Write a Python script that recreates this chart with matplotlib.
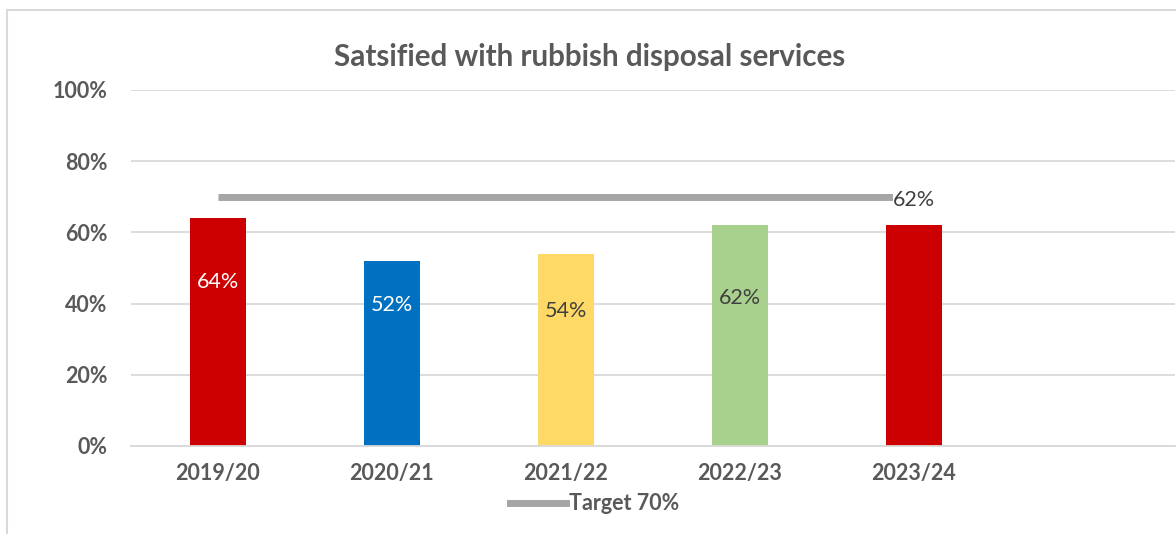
import matplotlib.pyplot as plt
from matplotlib.patches import Rectangle
from matplotlib.lines import Line2D

# data
years = ["2019/20", "2020/21", "2021/22", "2022/23", "2023/24", ""]
satisfied = [64, 52, 54, 62, 62]
target = [70, 70, 70, 70, 70]
bar_colors = ["#CC0000", "#0070C0", "#FFD966", "#A9D18E", "#CC0000"]
label_y = [46, 39.5, 38, 41.5, 69]
label_colors = ["white", "white", "#404040", "#404040", "#404040"]

plt.rcParams['font.family'] = ['Lato', 'DejaVu Sans']
grey = "#595959"

fig = plt.figure(figsize=(11.76, 5.34), dpi=100)
ax = fig.add_axes([131 / 1176, 1 - 446 / 534, 1044 / 1176, 356 / 534])

x = list(range(len(years)))
ax.bar(x[:len(satisfied)], satisfied, width=0.32, color=bar_colors, zorder=2)
ax.plot(x[:len(target)], target, color="#A5A5A5", lw=5, solid_capstyle="butt", zorder=3)

for i, (v, ly, c) in enumerate(zip(satisfied, label_y, label_colors)):
    bbox = dict(facecolor="white", edgecolor="none", pad=0.3) if i == 4 else None
    ax.text(i, ly, f"{v}%", ha="center", va="center", fontsize=15.5, color=c,
            zorder=4, bbox=bbox)

ax.set_xlim(-0.5, len(years) - 0.5)
ax.set_ylim(0, 100)
ax.set_yticks(range(0, 101, 20))
ax.set_yticklabels([f"{t}%" for t in range(0, 101, 20)], fontsize=15.5,
                   fontweight="bold", color=grey)
ax.set_xticks(x)
ax.set_xticklabels(years, fontsize=15.5, fontweight="bold", color=grey)
ax.tick_params(length=0, pad=12)
ax.tick_params(axis="y", pad=17)
ax.grid(axis="y", color="#D9D9D9", lw=1.3, zorder=0)
ax.set_axisbelow(True)
for s in ["top", "right", "left"]:
    ax.spines[s].set_visible(False)
ax.spines["bottom"].set_color("#D9D9D9")
ax.spines["bottom"].set_linewidth(1.3)

fig.text(590 / 1176, 1 - 57 / 534, "Satsified with rubbish disposal services",
         ha="center", va="center", fontsize=21.3, fontweight="bold", color=grey)

# legend
fig.add_artist(Line2D([510 / 1176, 566 / 1176], [1 - 503 / 534, 1 - 503 / 534],
                      color="#A5A5A5", lw=5))
fig.text(569 / 1176, 1 - 503 / 534, "Target 70%", ha="left", va="center",
         fontsize=15.5, fontweight="bold", color=grey)

# chart border
fig.add_artist(Rectangle((7 / 1176, -0.05), 1.2, 1 - 10 / 534 + 0.05,
                         transform=fig.transFigure, fill=False,
                         edgecolor="#D9D9D9", lw=1.5))

fig.savefig("out.png", dpi=100)
